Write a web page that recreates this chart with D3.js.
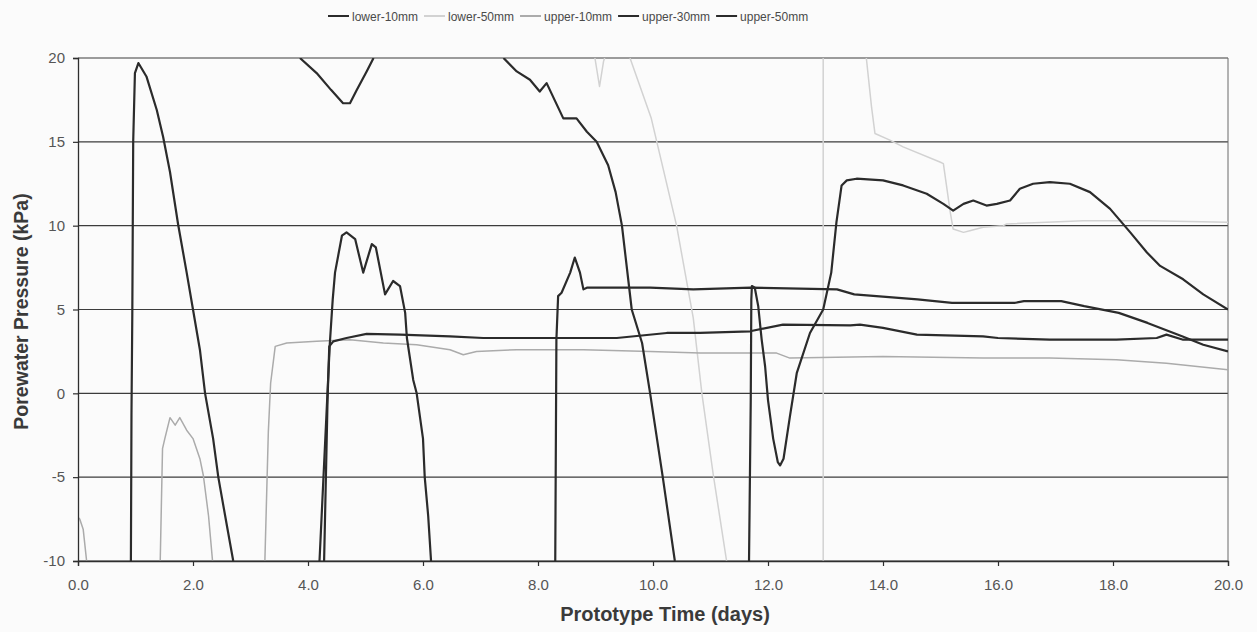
<!DOCTYPE html>
<html>
<head>
<meta charset="utf-8">
<script src="https://cdn.jsdelivr.net/npm/d3@7"></script>
<style>
  html, body { margin: 0; padding: 0; background: #fbfbfb; }
  svg { display: block; font-family: "Liberation Sans", Arial, sans-serif; }
</style>
</head>
<body>
<svg id="chart" width="1257" height="632"></svg>
<script>
// Series names in legend order
const seriesNames = ["lower-10mm", "lower-50mm", "upper-10mm", "upper-30mm", "upper-50mm"];
const seriesColors = ["#2b2b2b", "#d2d2d2", "#ababab", "#2b2b2b", "#2b2b2b"];

// Axis ticks
const xTicks = [0, 2, 4, 6, 8, 10, 12, 14, 16, 18, 20];
const yTicks = [-10, -5, 0, 5, 10, 15, 20];

// Readings as [time (days), porewater pressure (kPa)]; null marks an off-scale gap
const lower10 = [
  [3.86, 20], [4.15, 19.1], [4.4, 18.1], [4.61, 17.3], [4.73, 17.3], [4.85, 18.1], [5.02, 19.2], [5.14, 20], null,
  [7.4, 20], [7.63, 19.2], [7.86, 18.7], [8.03, 18.0], [8.15, 18.5], [8.44, 16.4], [8.67, 16.4], [8.85, 15.6],
  [9.02, 15.0], [9.22, 13.6], [9.35, 12.0], [9.46, 10.0], [9.63, 5.0], [9.81, 3.0], [9.95, 0], [10.17, -5], [10.38, -10], null,
  [11.67, -10], [11.7, -0.4], [11.71, 5.6], [11.72, 6.4], [11.77, 6.3], [11.83, 5.2], [11.89, 3.2], [11.95, 1.6],
  [12.0, -0.4], [12.09, -2.7], [12.17, -4.1], [12.21, -4.3], [12.27, -3.9], [12.38, -1.4], [12.5, 1.2], [12.73, 3.6],
  [12.96, 5.0], [13.1, 7.2], [13.19, 10.2], [13.28, 12.4], [13.37, 12.7], [13.54, 12.8], [14.0, 12.7], [14.35, 12.4],
  [14.76, 11.9], [15.05, 11.3], [15.22, 10.9], [15.4, 11.3], [15.57, 11.5], [15.8, 11.2], [15.98, 11.3], [16.21, 11.5],
  [16.38, 12.2], [16.61, 12.5], [16.9, 12.6], [17.25, 12.5], [17.6, 12.0], [17.95, 11.0], [18.3, 9.6], [18.59, 8.4],
  [18.82, 7.6], [19.22, 6.8], [19.57, 5.9], [20, 5.0]
];

const lower50 = [
  [8.99, 20], [9.07, 18.3], [9.14, 19.8], [9.16, 20], null,
  [9.6, 20], [9.97, 16.4], [10.41, 10.0], [10.7, 4.5], [10.85, 0], [11.05, -4.9], [11.28, -10], null,
  [12.96, -10], [12.96, 20], null,
  [13.71, 20], [13.8, 17.1], [13.86, 15.5], [14.12, 15.1], [14.35, 14.7], [14.99, 13.8], [15.05, 13.7], [15.17, 10.8],
  [15.22, 9.8], [15.4, 9.6], [15.51, 9.7], [15.74, 9.9], [16.09, 10.0], [16.15, 10.1], [17.48, 10.3], [18.64, 10.3], [20, 10.2]
];

const upper10 = [
  [0, -7.4], [0.03, -7.5], [0.09, -8.1], [0.15, -10], null,
  [1.43, -10], [1.47, -3.3], [1.51, -2.7], [1.6, -1.45], [1.69, -1.9], [1.77, -1.45], [1.89, -2.2], [2.0, -2.7],
  [2.12, -3.9], [2.18, -4.9], [2.27, -7.3], [2.34, -10], null,
  [3.25, -10], [3.31, -2.3], [3.35, 0.6], [3.43, 2.8], [3.63, 3.0], [4.15, 3.1], [4.73, 3.2], [5.31, 3.0], [5.89, 2.9],
  [6.47, 2.6], [6.7, 2.3], [6.93, 2.5], [7.63, 2.6], [8.79, 2.6], [9.95, 2.5], [10.82, 2.4], [12.15, 2.4], [12.38, 2.1],
  [14.0, 2.2], [15.74, 2.1], [16.9, 2.1], [18.06, 2.0], [18.93, 1.8], [20, 1.4]
];

const upper30 = [
  [4.28, -10], [4.34, -0.4], [4.37, 2.8], [4.44, 3.1], [4.67, 3.3], [5.02, 3.55], [5.6, 3.5], [6.47, 3.4], [7.05, 3.3],
  [8.21, 3.3], [9.37, 3.3], [10.24, 3.6], [10.82, 3.6], [11.69, 3.7], [12.26, 4.1], [13.43, 4.05], [13.6, 4.1],
  [14.0, 3.9], [14.59, 3.5], [15.74, 3.4], [16.0, 3.3], [16.9, 3.2], [18.06, 3.2], [18.76, 3.3], [18.93, 3.5],
  [19.22, 3.2], [20, 3.2]
];

const upper50 = [
  [0.92, -10], [0.93, -1.3], [0.945, 5], [0.96, 15], [0.99, 19.1], [1.05, 19.7], [1.19, 18.9], [1.37, 16.9], [1.48, 15.3],
  [1.6, 13.2], [1.74, 10.1], [1.89, 7.2], [2.0, 5.0], [2.12, 2.6], [2.21, 0], [2.35, -2.7], [2.44, -5], [2.59, -7.9], [2.7, -10], null,
  [4.2, -10], [4.38, 3.0], [4.43, 5.6], [4.47, 7.2], [4.59, 9.4], [4.67, 9.6], [4.82, 9.2], [4.96, 7.2], [5.11, 8.9],
  [5.18, 8.7], [5.34, 5.9], [5.48, 6.7], [5.6, 6.4], [5.69, 4.8], [5.72, 3.3], [5.83, 0.8], [5.89, 0], [6.0, -2.7],
  [6.03, -5], [6.09, -7.3], [6.14, -10], null,
  [8.3, -10], [8.32, 3.2], [8.35, 5.8], [8.41, 6.0], [8.56, 7.2], [8.64, 8.1], [8.73, 7.2], [8.79, 6.2], [8.85, 6.3],
  [9.95, 6.3], [10.7, 6.2], [11.7, 6.3], [13.2, 6.2], [13.5, 5.9], [14.6, 5.6], [15.2, 5.4], [16.3, 5.4], [16.45, 5.5],
  [17.1, 5.5], [17.5, 5.2], [18.1, 4.8], [18.6, 4.2], [19.2, 3.4], [19.57, 2.9], [20, 2.5]
];

const seriesData = [lower10, lower50, upper10, upper30, upper50];

// ---- layout ----
const svg = d3.select("#chart");
const plotLeft = 78, plotRight = 1228, plotTop = 58, plotBottom = 561;

const x = d3.scaleLinear().domain([0, 20]).range([plotLeft, plotRight]);
const y = d3.scaleLinear().domain([-10, 20]).range([plotBottom, plotTop]);

// Plot-area clip so off-scale excursions are cut at the frame
svg.append("defs").append("clipPath").attr("id", "plotClip")
  .append("rect").attr("x", plotLeft).attr("y", plotTop)
  .attr("width", plotRight - plotLeft).attr("height", plotBottom - plotTop);

// Horizontal gridlines
svg.append("g").selectAll("line").data(yTicks).join("line")
  .attr("x1", plotLeft).attr("x2", plotRight)
  .attr("y1", d => y(d)).attr("y2", d => y(d))
  .attr("stroke", "#3c3c3c").attr("stroke-width", 1.2);

// Right frame edge
svg.append("line")
  .attr("x1", plotRight).attr("x2", plotRight).attr("y1", plotTop).attr("y2", plotBottom)
  .attr("stroke", "#6a6a6a").attr("stroke-width", 1);

// Series lines (light ones first so dark traces sit on top)
const line = d3.line()
  .defined(d => d != null)
  .x(d => x(d[0]))
  .y(d => y(d[1]));

const drawOrder = [1, 2, 3, 4, 0];
const lines = svg.append("g").attr("clip-path", "url(#plotClip)");
drawOrder.forEach(i => {
  const light = i === 1 || i === 2;
  lines.append("path")
    .datum(seriesData[i])
    .attr("fill", "none")
    .attr("stroke", seriesColors[i])
    .attr("stroke-width", light ? 1.5 : 2.2)
    .attr("stroke-linejoin", "round")
    .attr("d", line);
});

// Axes (plain hyphen for negative ticks)
const xAxis = svg.append("g")
  .attr("transform", `translate(0,${plotBottom})`)
  .call(d3.axisBottom(x).tickValues(xTicks).tickFormat(d3.format(".1f")).tickSize(5).tickPadding(13));
const yAxis = svg.append("g")
  .attr("transform", `translate(${plotLeft},0)`)
  .call(d3.axisLeft(y).tickValues(yTicks).tickFormat(d => String(d)).tickSize(5).tickPadding(8));

[xAxis, yAxis].forEach(g => {
  g.select(".domain").attr("stroke", "#2e2e2e").attr("stroke-width", 1.3);
  g.selectAll(".tick line").attr("stroke", "#2e2e2e").attr("stroke-width", 1.2);
  g.selectAll(".tick text")
    .attr("fill", "#555")
    .style("font-size", "15px")
    .style("font-family", "'Liberation Sans', Arial, sans-serif");
});

// Axis titles
svg.append("text")
  .attr("x", (plotLeft + plotRight) / 2 + 12).attr("y", 621)
  .attr("text-anchor", "middle")
  .attr("fill", "#3a3a3a")
  .style("font-size", "20px").style("font-weight", "bold")
  .text("Prototype Time (days)");

svg.append("text")
  .attr("transform", `translate(28,${(plotTop + plotBottom) / 2 + 2}) rotate(-90)`)
  .attr("text-anchor", "middle")
  .attr("fill", "#3a3a3a")
  .style("font-size", "19.5px").style("font-weight", "bold")
  .text("Porewater Pressure (kPa)");

// Legend across the top
const legend = svg.append("g").attr("transform", "translate(328,16)");
let lx = 0;
seriesNames.forEach((name, i) => {
  const g = legend.append("g").attr("transform", `translate(${lx},0)`);
  g.append("line").attr("x1", 0).attr("x2", 21).attr("y1", 0).attr("y2", 0)
    .attr("stroke", seriesColors[i]).attr("stroke-width", 2);
  const t = g.append("text").attr("x", 24).attr("y", 4.5)
    .attr("fill", "#4a4a4a")
    .style("font-size", "12px")
    .text(name);
  lx += 24 + t.node().getComputedTextLength() + 6;
});
</script>
</body>
</html>
